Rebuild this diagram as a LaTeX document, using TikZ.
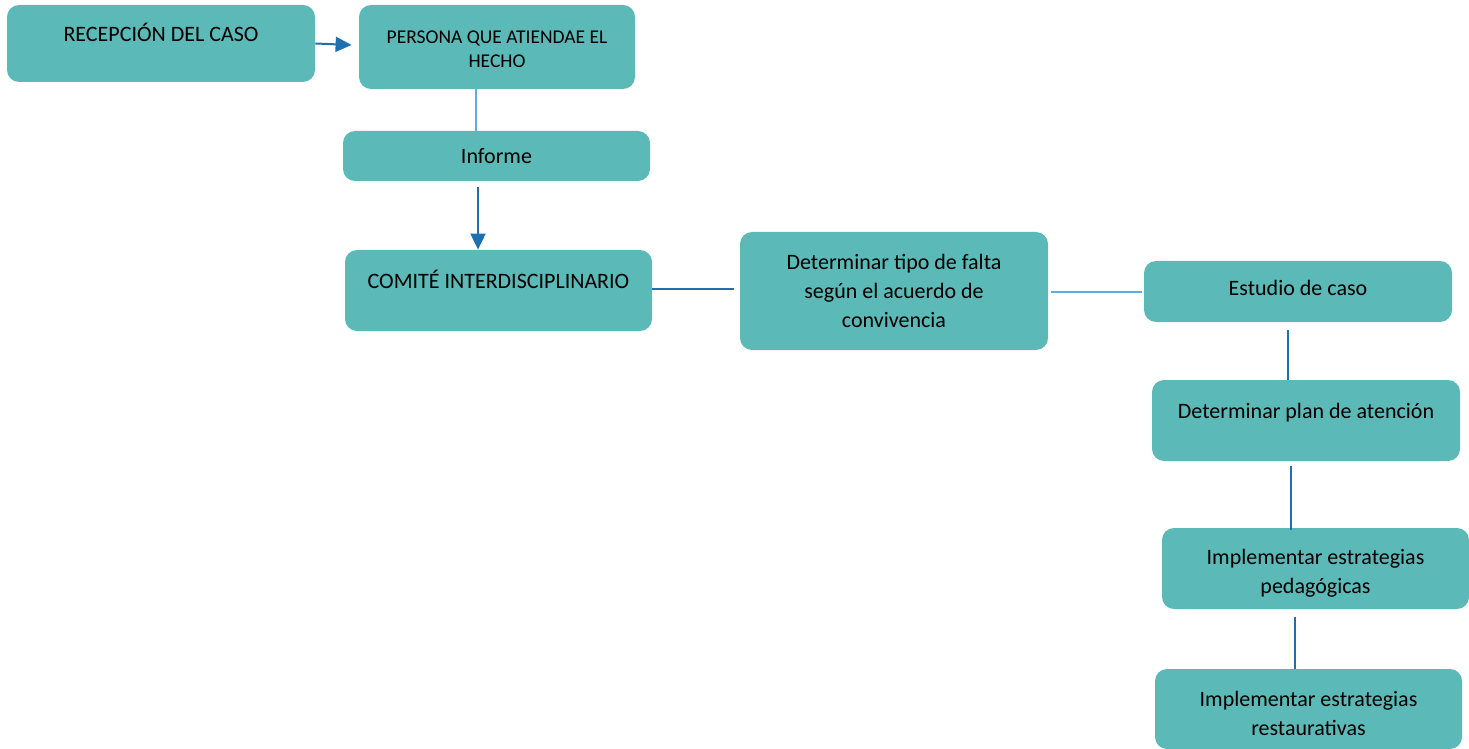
\documentclass[tikz,border=0pt]{standalone}
\usepackage{fontspec}
\setmainfont{Carlito}
\usetikzlibrary{arrows.meta}

\definecolor{cajaverde}{HTML}{5BB9B7}
\definecolor{azul}{HTML}{1F70B0}
\definecolor{celeste}{HTML}{5DADE2}

\tikzset{
    caja/.style={fill=cajaverde, rounded corners=6pt, inner sep=0pt, align=center,
        font=\fontsize{11}{14.5}\selectfont},
    arriba/.style={text height=7.1pt, text depth=#1},
    flecha/.style={draw=azul, line width=1pt, -{Triangle[length=8pt,width=7.5pt]}},
    linea/.style={draw=azul, line width=0.7pt},
    lineaclara/.style={draw=celeste, line width=0.6pt}
}

\begin{document}
\begin{tikzpicture}[x=0.5pt, y=-0.5pt]
    \useasboundingbox (0,0) rectangle (1469,749);
    % Left column
    \node[caja, arriba=9.5pt, minimum width=154pt, minimum height=38.5pt] (recepcion) at (161,43.5) {RECEPCIÓN DEL CASO};
    \node[caja, minimum width=138pt, minimum height=42pt, font=\fontsize{9.75}{12}\selectfont] (persona) at (497,47) {\rule{0pt}{8.8pt}PERSONA QUE ATIENDAE EL\\HECHO};
    \node[caja, arriba=0pt, minimum width=153.5pt, minimum height=25pt] (informe) at (496.5,156) {Informe};
    \node[caja, arriba=9.5pt, minimum width=153.5pt, minimum height=40.5pt] (comite) at (498.5,290.5) {COMITÉ INTERDISCIPLINARIO};
    % Middle
    \node[caja, minimum width=154pt, minimum height=59pt] (tipofalta) at (894,291) {Determinar tipo de falta\\según el acuerdo de\\convivencia};
    % Right column
    \node[caja, arriba=3.5pt, minimum width=154pt, minimum height=30.5pt] (estudio) at (1298,291.5) {Estudio de caso};
    \node[caja, arriba=9.5pt, minimum width=154pt, minimum height=40.5pt] (plan) at (1306,420.5) {Determinar plan de atención};
    \node[caja, minimum width=153.5pt, minimum height=40.5pt] (pedagogicas) at (1315.5,568.5) {\rule{0pt}{12.2pt}Implementar estrategias\\pedagógicas};
    \node[caja, minimum width=153.5pt, minimum height=40pt] (restaurativas) at (1308.5,709) {\rule{0pt}{12.2pt}Implementar estrategias\\restaurativas};
    % Connectors
    \draw[flecha] (recepcion.east) -- ([shift={(-7,-2)}]persona.west);
    \draw[lineaclara] ([shift={(-21,0)}]persona.south) -- ([shift={(-20.5,0)}]informe.north);
    \draw[flecha] ([shift={(-18.5,6)}]informe.south) -- ([shift={(-20.5,0)}]comite.north);
    \draw[linea, line width=1pt] ([shift={(0,-1.5)}]comite.east) -- ([shift={(-6,-1.5)}]comite.east -| tipofalta.west);
    \draw[lineaclara] ([shift={(3,1)}]tipofalta.east) -- ([shift={(-2,1)}]tipofalta.east -| estudio.west);
    \draw[linea] ([shift={(-10,8)}]estudio.south) -- ([shift={(-18,0)}]plan.north);
    \draw[linea] ([shift={(-15,5)}]plan.south) -- ([shift={(-24.5,2)}]pedagogicas.north);
    \draw[linea] ([shift={(-20.5,8)}]pedagogicas.south) -- ([shift={(-13.5,0)}]restaurativas.north);
\end{tikzpicture}
\end{document}
